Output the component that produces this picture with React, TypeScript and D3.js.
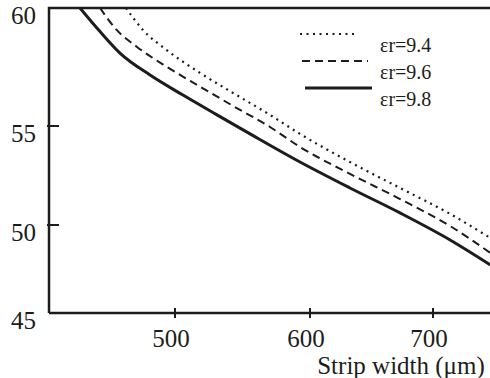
import * as d3 from "d3";
import { useEffect, useRef } from "react";

// strip width (um) vs impedance
const LABELS = ["\u03b5r=9.4", "\u03b5r=9.6", "\u03b5r=9.8"];
const DASHES = ["2,4.5", "8,5", null];
const WIDTHS = [2.2, 2, 3];

const X94 = [461.1, 474.6, 493.4, 518.5, 543.0, 570.4, 592.6, 632.5, 673.2, 713.8, 746.3];
const Y94 = [60, 59.07, 58.22, 57.25, 56.4, 55.47, 54.6, 53.18, 51.87, 50.56, 49.26];
const X96 = [440.5, 453.7, 469.6, 493.4, 518.5, 543.0, 570.4, 592.6, 632.5, 673.2, 713.8, 746.3];
const Y96 = [60, 59.07, 58.36, 57.51, 56.67, 55.85, 54.95, 53.94, 52.58, 51.31, 49.94, 48.41];
const X98 = [424.6, 440.5, 456.3, 480.2, 505.9, 531.1, 555.6, 592.6, 632.5, 673.2, 713.8, 746.3];
const Y98 = [60, 59.0, 58.09, 57.16, 56.31, 55.47, 54.6, 53.18, 51.87, 50.61, 49.15, 47.73];

const X_TICKS = [500, 600, 700];
const Y_TICKS = [45, 50, 55, 60];

const W = 490;
const H = 378;
const FONT = "Times New Roman, Liberation Serif, DejaVu Serif, serif";
const INK = "#1c1c1c";

const App = () => {
	const svgRef = useRef(null);

	useEffect(() => {
		const svg = d3.select(svgRef.current);
		svg.selectAll("*").remove();

		// the scan is a bit stretched, so the scales are piecewise
		const x = d3.scaleLinear().domain([400, 500, 600, 700, 750]).range([49, 175, 310, 433, 495]);
		const y = d3.scaleLinear().domain([45, 50, 55, 60]).range([313, 225, 126, 8]);

		svg.append("defs")
			.append("clipPath")
			.attr("id", "plot-clip")
			.append("rect")
			.attr("x", 49)
			.attr("y", 8)
			.attr("width", 495 - 49)
			.attr("height", 313 - 8);

		// frame: left, top, bottom
		const frame = svg.append("g").attr("stroke", INK).attr("stroke-width", 2.5).attr("fill", "none");
		frame.append("path").attr("d", `M${x(400)},${y(45)}V${y(60)}H${W}`);
		frame.append("path").attr("d", `M${x(400)},${y(45)}H${W}`);

		// ticks
		const g = svg.append("g").attr("stroke", INK).attr("stroke-width", 2);
		Y_TICKS.filter((v) => v > 45 && v < 60).forEach((v) => {
			g.append("line").attr("x1", x(400) - 2).attr("x2", x(400) + 10).attr("y1", y(v)).attr("y2", y(v));
		});
		X_TICKS.forEach((v) => {
			g.append("line").attr("x1", x(v)).attr("x2", x(v)).attr("y1", y(45) - 5).attr("y2", y(45) + 5);
		});

		const txt = svg.append("g").attr("fill", INK).attr("font-family", FONT);
		Y_TICKS.forEach((v) => {
			txt.append("text")
				.attr("x", 36)
				.attr("y", y(v) + 7)
				.attr("text-anchor", "end")
				.attr("dominant-baseline", "central")
				.attr("font-size", 25)
				.text(v);
		});
		X_TICKS.forEach((v) => {
			txt.append("text")
				.attr("x", x(v) - 4)
				.attr("y", 347)
				.attr("text-anchor", "middle")
				.attr("font-size", 25)
				.text(v);
		});
		txt.append("text")
			.attr("x", 401)
			.attr("y", 374)
			.attr("text-anchor", "middle")
			.attr("font-size", 25)
			.text("Strip width (\u03bcm)");

		// curves
		const series = [
			X94.map((v, i) => [v, Y94[i]]),
			X96.map((v, i) => [v, Y96[i]]),
			X98.map((v, i) => [v, Y98[i]]),
		];
		const line = d3
			.line()
			.x((d) => x(d[0]))
			.y((d) => y(d[1]))
			.curve(d3.curveMonotoneX);

		const curves = svg.append("g").attr("clip-path", "url(#plot-clip)");
		series.forEach((s, i) => {
			curves.append("path")
				.attr("d", line(s))
				.attr("fill", "none")
				.attr("stroke", INK)
				.attr("stroke-width", WIDTHS[i])
				.attr("stroke-dasharray", DASHES[i]);
		});

		// legend
		const lg = svg.append("g");
		const legendX = [[300, 357], [302, 368], [305, 372]];
		LABELS.forEach((label, i) => {
			const ly = 34 + i * 27;
			lg.append("line")
				.attr("x1", legendX[i][0])
				.attr("x2", legendX[i][1])
				.attr("y1", ly)
				.attr("y2", ly)
				.attr("stroke", INK)
				.attr("stroke-width", WIDTHS[i])
				.attr("stroke-dasharray", DASHES[i]);
			lg.append("text")
				.attr("x", 380)
				.attr("y", ly + 18)
				.attr("fill", INK)
				.attr("font-family", FONT)
				.attr("font-size", 20)
				.text(label);
		});
	}, []);

	return (
		<svg
			ref={svgRef}
			width={W}
			height={H}
			style={{ position: "fixed", left: 0, top: 0, background: "#fff", display: "block" }}
		/>
	);
};

export default App;
